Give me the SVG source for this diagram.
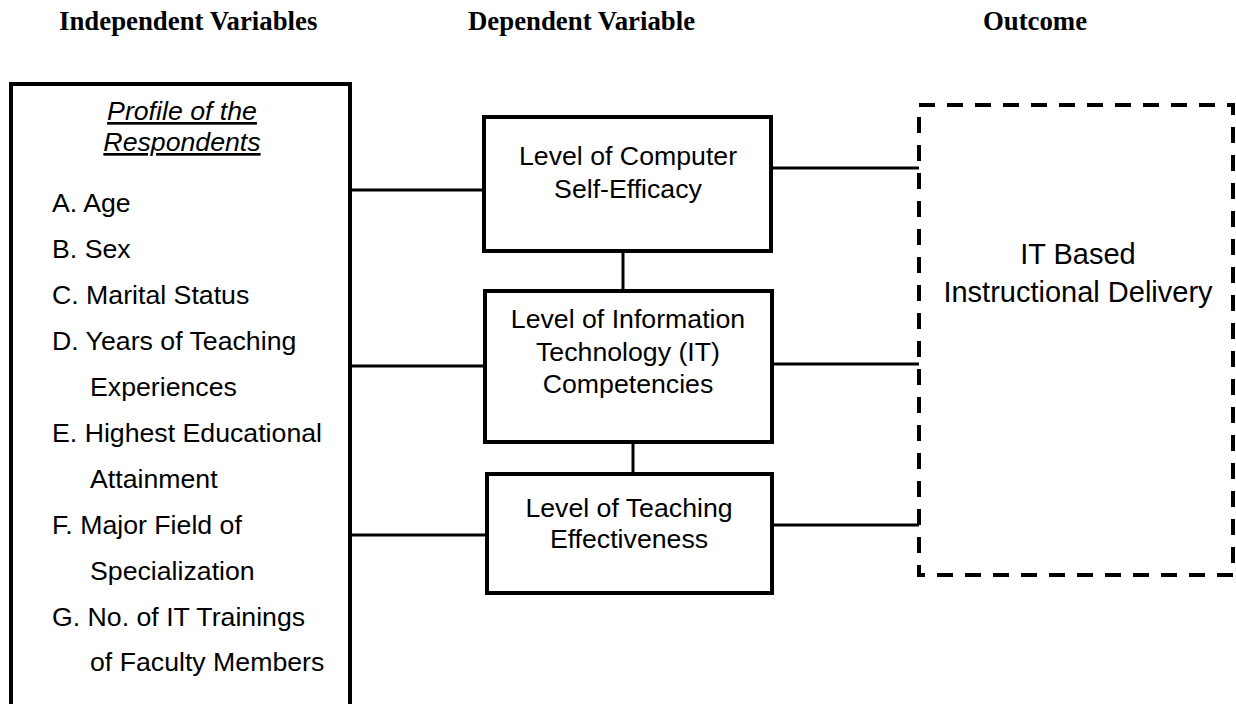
<svg xmlns="http://www.w3.org/2000/svg" width="1236" height="704" viewBox="0 0 1236 704">
  <style>
    .hdr { font-family: "Liberation Serif", "Times New Roman", serif; font-weight: bold; font-size: 26.8px; fill: #000; }
    .lbl { font-family: "Liberation Sans", Arial, sans-serif; font-size: 26.7px; fill: #000; }
    .big { font-size: 29px; }
    .mid { text-anchor: middle; }
    .title { font-style: italic; text-decoration: underline; }
    .box { fill: #fff; stroke: #000; stroke-width: 4; }
    .dash { fill: none; stroke: #000; stroke-width: 4; stroke-dasharray: 16 12; }
    .link { fill: none; stroke: #000; stroke-width: 3; }
  </style>

  <!-- column headings -->
  <g id="headings">
    <text class="hdr" x="59" y="30">Independent Variables</text>
    <text class="hdr" x="468" y="30">Dependent Variable</text>
    <text class="hdr mid" x="1035" y="30">Outcome</text>
  </g>

  <!-- connectors -->
  <g id="connectors">
    <line class="link" x1="350" y1="190" x2="484" y2="190"/>
    <line class="link" x1="350" y1="366" x2="485" y2="366"/>
    <line class="link" x1="350" y1="535" x2="487" y2="535"/>
    <line class="link" x1="623" y1="251" x2="623" y2="291"/>
    <line class="link" x1="633" y1="442" x2="633" y2="474"/>
    <line class="link" x1="771" y1="168" x2="919" y2="168"/>
    <line class="link" x1="772" y1="364" x2="919" y2="364"/>
    <line class="link" x1="772" y1="525" x2="919" y2="525"/>
  </g>

  <!-- independent variables: respondent profile -->
  <g id="profile">
    <path class="box" d="M11,712 V84 H350 V712"/>
    <text class="lbl mid title" x="182" y="120">Profile of the</text>
    <text class="lbl mid title" x="182" y="151">Respondents</text>
    <text class="lbl" x="52" y="212">A. Age</text>
    <text class="lbl" x="52" y="258">B. Sex</text>
    <text class="lbl" x="52" y="304">C. Marital Status</text>
    <text class="lbl" x="52" y="350">D. Years of Teaching</text>
    <text class="lbl" x="90" y="396">Experiences</text>
    <text class="lbl" x="52" y="442">E. Highest Educational</text>
    <text class="lbl" x="90" y="488">Attainment</text>
    <text class="lbl" x="52" y="534">F. Major Field of</text>
    <text class="lbl" x="90" y="580">Specialization</text>
    <text class="lbl" x="52" y="626">G. No. of IT Trainings</text>
    <text class="lbl" x="90" y="671">of Faculty Members</text>
  </g>

  <!-- dependent variables -->
  <g id="self-efficacy">
    <rect class="box" x="484" y="117" width="287" height="134"/>
    <text class="lbl mid" x="628" y="165">Level of Computer</text>
    <text class="lbl mid" x="628" y="198">Self-Efficacy</text>
  </g>

  <g id="it-competencies">
    <rect class="box" x="485" y="291" width="287" height="151"/>
    <text class="lbl mid" x="628" y="328">Level of Information</text>
    <text class="lbl mid" x="628" y="361">Technology (IT)</text>
    <text class="lbl mid" x="628" y="393">Competencies</text>
  </g>

  <g id="teaching-effectiveness">
    <rect class="box" x="487" y="474" width="285" height="119"/>
    <text class="lbl mid" x="629" y="517">Level of Teaching</text>
    <text class="lbl mid" x="629" y="548">Effectiveness</text>
  </g>

  <!-- outcome -->
  <g id="outcome">
    <rect class="dash" x="919" y="105" width="314" height="470"/>
    <text class="lbl big mid" x="1078" y="264">IT Based</text>
    <text class="lbl big mid" x="1078" y="302">Instructional Delivery</text>
  </g>
</svg>
